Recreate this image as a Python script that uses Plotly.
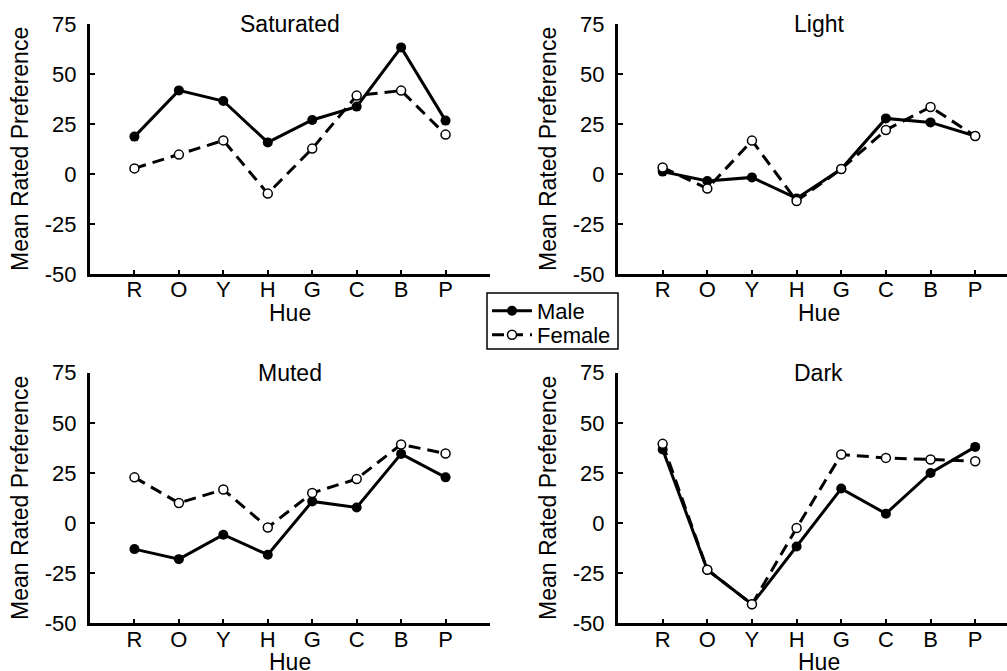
import plotly.graph_objects as go

hues = ["R", "O", "Y", "H", "G", "C", "B", "P"]
xpos = [1, 2, 3, 4, 5, 6, 7, 8]
y_ticks = [-50, -25, 0, 25, 50, 75]
y_tick_text = ["-50", "-25", "0", "25", "50", "75"]
panel_titles = ["Saturated", "Light", "Muted", "Dark"]

sat_male = [18.7, 41.8, 36.5, 15.8, 27.0, 33.7, 63.3, 26.7]
sat_female = [2.8, 9.7, 16.8, -9.8, 12.7, 39.2, 41.7, 19.7]
light_male = [1.2, -3.5, -1.7, -12.2, 2.5, 27.8, 25.8, 19.0]
light_female = [3.3, -7.3, 16.7, -13.5, 2.5, 22.0, 33.5, 19.0]
muted_male = [-13.0, -18.0, -5.8, -15.8, 10.8, 7.8, 34.5, 22.8]
muted_female = [22.8, 10.0, 16.7, -2.2, 15.0, 22.0, 39.2, 34.7]
dark_male = [36.7, -23.3, -40.5, -11.7, 17.2, 4.7, 25.0, 38.0]
dark_female = [39.5, -23.3, -40.5, -2.5, 34.2, 32.5, 31.7, 30.8]

males = [sat_male, light_male, muted_male, dark_male]
females = [sat_female, light_female, muted_female, dark_female]

W, H = 1007, 671
FONT = "Liberation Sans, Arial, Helvetica, sans-serif"

# pixel layout
xdoms = [(90, 490), (618, 1007)]
ydoms = [(24, 274), (372.7, 623.3)]
xranges = [[0, 9], [0, (1007 - 618) / 44.65]]

fig = go.Figure()
layout = dict(
    width=W, height=H,
    margin=dict(l=0, r=0, t=0, b=0, pad=0, autoexpand=False),
    paper_bgcolor="white", plot_bgcolor="white",
    font=dict(family=FONT, size=21, color="black"),
    showlegend=True,
    legend=dict(x=487 / W, y=1 - 311 / H, xanchor="left", yanchor="middle",
                borderwidth=0, bgcolor="rgba(0,0,0,0)",
                font=dict(family=FONT, size=22, color="black"),
                tracegroupgap=0, itemwidth=40),
    legend2=dict(x=487 / W, y=1 - 335 / H, xanchor="left", yanchor="middle",
                 borderwidth=0, bgcolor="rgba(0,0,0,0)",
                 font=dict(family=FONT, size=22, color="black"),
                 tracegroupgap=0, itemwidth=40),
    shapes=[dict(type="rect", xref="paper", yref="paper",
                 x0=487 / W, x1=618 / W, y0=1 - 349 / H, y1=1 - 293 / H,
                 line=dict(color="black", width=1.5), fillcolor="rgba(0,0,0,0)")],
)
annotations = []

for i in range(4):
    row, col = divmod(i, 2)
    ax = "" if i == 0 else str(i + 1)
    xd = xdoms[col]
    yd = ydoms[row]
    layout["xaxis" + ax] = dict(
        domain=[xd[0] / W, min(xd[1] / W, 1.0)], range=xranges[col],
        anchor="y" + ax, tickmode="array", tickvals=xpos, ticktext=hues,
        ticks="inside", ticklen=4, tickwidth=2, tickcolor="black",
        showline=True, linecolor="black", linewidth=3, showgrid=False,
        zeroline=False, tickfont=dict(size=22), ticklabelstandoff=-6,
        fixedrange=True)
    layout["yaxis" + ax] = dict(
        domain=[1 - yd[1] / H, 1 - yd[0] / H], range=[-50, 75],
        anchor="x" + ax, tickmode="array", tickvals=y_ticks, ticktext=y_tick_text,
        ticks="inside", ticklen=5, tickwidth=2, tickcolor="black",
        showline=True, linecolor="black", linewidth=3, showgrid=False,
        zeroline=False, tickfont=dict(size=22), ticklabelstandoff=6, fixedrange=True)

    fig.add_trace(go.Scatter(
        x=xpos, y=males[i], mode="lines+markers", name="Male",
        xaxis="x" + ax, yaxis="y" + ax, showlegend=(i == 0), legend="legend",
        line=dict(color="black", width=3),
        marker=dict(symbol="circle", size=10, color="black")))
    fig.add_trace(go.Scatter(
        x=xpos, y=females[i], mode="lines+markers", name="Female",
        xaxis="x" + ax, yaxis="y" + ax, showlegend=(i == 0), legend="legend2",
        line=dict(color="black", width=3, dash="12px,7px"),
        marker=dict(symbol="circle", size=9, color="white",
                    line=dict(color="black", width=1.5))))

    annotations.append(dict(
        text=panel_titles[i], xref="x" + ax, yref="y" + ax, x=4.5, y=75,
        xanchor="center", yanchor="middle", showarrow=False,
        font=dict(size=23)))
    annotations.append(dict(
        text="Hue", xref="x" + ax, yref="y" + ax + " domain", x=4.5, y=0,
        yshift=-39, xanchor="center", yanchor="middle", showarrow=False,
        font=dict(size=23)))
    annotations.append(dict(
        text="Mean Rated Preference", xref="x" + ax + " domain", yref="y" + ax,
        x=0, y=12.5, xshift=-70, textangle=-90, xanchor="center",
        yanchor="middle", showarrow=False, font=dict(size=23)))

layout["annotations"] = annotations
fig.update_layout(**layout)
fig.write_html("out.html")
